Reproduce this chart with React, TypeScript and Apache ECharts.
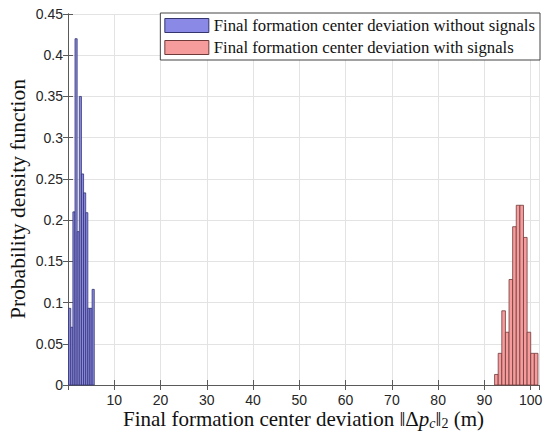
import React, { useEffect, useRef } from "react";
import * as echarts from "echarts";

// ---- data ----
const blueStart = 0.13;
const blueBinWidth = 0.462;
const blueDensity = [0.093, 0.07, 0.21, 0.42, 0.186, 0.35, 0.256, 0.233, 0.209, 0.093, 0.093, 0.116];

const redStart = 92.2;
const redBinWidth = 0.781;
const redDensity = [0.0128, 0.0384, 0.09, 0.064, 0.128, 0.192, 0.218, 0.218, 0.179, 0.064, 0.0384, 0.0384];

const seriesNames = [
  "Final formation center deviation without signals",
  "Final formation center deviation with signals",
];
const yTicks = { min: 0, max: 0.45, interval: 0.05 };
const xTicks = { min: 0, max: 101.8, interval: 10 };

const blueFill = "#8a8ae6";
const blueEdge = "#34346e";
const redFill = "#f79c9c";
const redEdge = "#6e3a3a";

const serif = "'Liberation Serif', 'DejaVu Serif', serif";
const sans = "'Liberation Sans', Arial, sans-serif";

function bins(start: number, width: number, dens: number[]) {
  return dens.map((d, i) => [start + i * width, start + (i + 1) * width, d]);
}

function histSeries(name: string, data: number[][], fill: string, edge: string) {
  return {
    type: "custom",
    name,
    data,
    encode: { x: [0, 1], y: 2 },
    itemStyle: { color: fill, borderColor: edge, borderWidth: 0.8 },
    renderItem: (params: any, api: any) => {
      const x0 = api.value(0);
      const x1 = api.value(1);
      const y = api.value(2);
      const p0 = api.coord([x0, y]);
      const p1 = api.coord([x1, 0]);
      return {
        type: "rect",
        shape: { x: p0[0], y: p0[1], width: p1[0] - p0[0], height: p1[1] - p0[1] },
        style: { fill, stroke: edge, lineWidth: 0.8 },
      };
    },
  };
}

export default function App() {
  const ref = useRef<HTMLDivElement>(null);
  useEffect(() => {
    document.body.style.margin = "0";
    if (!ref.current) return;
    const chart = echarts.init(ref.current, undefined, { renderer: "svg" });
    const axisColor = "#5a5a5a";
    const labelColor = "#262626";
    chart.setOption({
      animation: false,
      backgroundColor: "#ffffff",
      grid: { left: 68, top: 14, right: 11, bottom: 55, containLabel: false, outerBoundsMode: "none" },
      legend: {
        orient: "vertical",
        right: 10,
        top: 13,
        backgroundColor: "#ffffff",
        borderColor: "#444",
        borderWidth: 1,
        borderRadius: 0,
        padding: [4, 5, 4, 4],
        itemGap: 5,
        itemWidth: 44,
        itemHeight: 14,
        itemTextGap: 4,
        icon: "rect",
        textStyle: { fontFamily: serif, fontSize: 16.7, color: "#111" },
        data: [
          { name: seriesNames[0], itemStyle: { color: blueFill, borderColor: blueEdge, borderWidth: 1 } },
          { name: seriesNames[1], itemStyle: { color: redFill, borderColor: redEdge, borderWidth: 1 } },
        ],
      },
      xAxis: [
        {
          type: "value",
          min: xTicks.min,
          max: xTicks.max,
          interval: xTicks.interval,
          name: "{t|Final formation center deviation ‖Δ}{i|p}{s|c}{t|‖}{n|2}{t| (m)}",
          nameLocation: "middle",
          nameGap: 23,
          nameMoveOverlap: false,
          nameTextStyle: {
            fontFamily: serif,
            fontSize: 21,
            color: "#111",
            lineHeight: 22,
            rich: {
              t: { fontFamily: serif, fontSize: 21, color: "#111", lineHeight: 22 },
              i: { fontFamily: serif, fontSize: 21, fontStyle: "italic", color: "#111", lineHeight: 22 },
              s: { fontFamily: serif, fontSize: 14, fontStyle: "italic", color: "#111", lineHeight: 10, verticalAlign: "bottom" },
              n: { fontFamily: serif, fontSize: 14, color: "#111", lineHeight: 10, verticalAlign: "bottom" },
            },
          },
          axisLine: { show: true, lineStyle: { color: axisColor, width: 1 } },
          axisTick: { show: true, inside: true, length: 5, lineStyle: { color: axisColor } },
          axisLabel: {
            show: true,
            showMinLabel: false,
            showMaxLabel: false,
            margin: 8,
            fontFamily: sans,
            fontSize: 14,
            color: labelColor,
          },
          splitLine: { show: true, lineStyle: { color: "#e3e3e3", width: 1 } },
        },
        {
          type: "value",
          position: "top",
          min: xTicks.min,
          max: xTicks.max,
          interval: xTicks.interval,
          axisLine: { show: true, lineStyle: { color: axisColor, width: 1 } },
          axisTick: { show: true, inside: true, length: 5, lineStyle: { color: axisColor } },
          axisLabel: { show: false },
          splitLine: { show: false },
        },
      ],
      yAxis: [
        {
          type: "value",
          min: yTicks.min,
          max: yTicks.max,
          interval: yTicks.interval,
          axisLine: { show: true, lineStyle: { color: axisColor, width: 1 } },
          axisTick: { show: true, inside: true, length: 5, lineStyle: { color: axisColor } },
          axisLabel: {
            margin: 5,
            fontFamily: sans,
            fontSize: 14,
            color: labelColor,
            formatter: (v: number) => String(+v.toFixed(2)),
          },
          splitLine: { show: true, lineStyle: { color: "#e3e3e3", width: 1 } },
        },
        {
          type: "value",
          position: "right",
          min: yTicks.min,
          max: yTicks.max,
          interval: yTicks.interval,
          axisLine: { show: true, lineStyle: { color: axisColor, width: 1 } },
          axisTick: { show: true, inside: true, length: 5, lineStyle: { color: axisColor } },
          axisLabel: { show: false },
          splitLine: { show: false },
        },
      ],
      graphic: [
        {
          type: "text",
          x: 18,
          y: 199,
          rotation: Math.PI / 2,
          style: {
            text: "Probability density function",
            fontFamily: serif,
            fontSize: 21.5,
            fill: "#111",
            align: "center",
            verticalAlign: "middle",
          },
        },
      ],
      series: [
        histSeries(seriesNames[0], bins(blueStart, blueBinWidth, blueDensity), blueFill, blueEdge),
        histSeries(seriesNames[1], bins(redStart, redBinWidth, redDensity), redFill, redEdge),
      ],
    });
    return () => chart.dispose();
  }, []);
  return <div ref={ref} style={{ width: 550, height: 440 }} />;
}
